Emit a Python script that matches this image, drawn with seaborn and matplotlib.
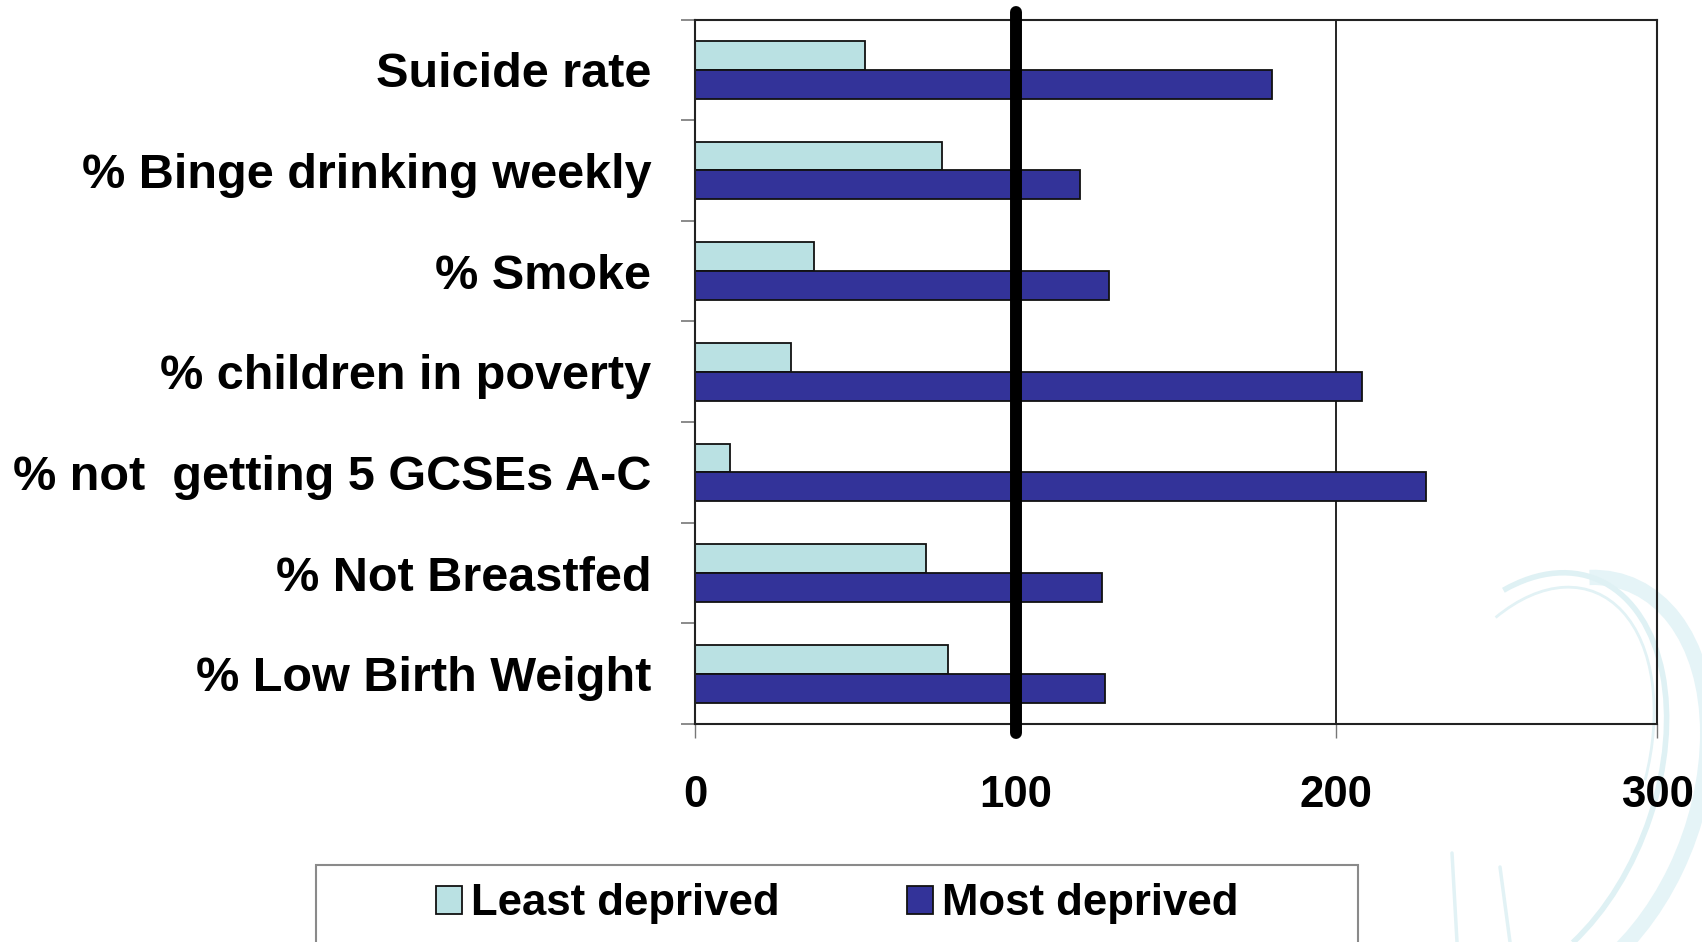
import numpy as np
import pandas as pd
import seaborn as sns
import matplotlib
matplotlib.use("Agg")
import matplotlib.pyplot as plt
from matplotlib.patches import Rectangle, Arc
from matplotlib.lines import Line2D
from matplotlib.ticker import FixedLocator

# Indicator values, England average = 100
categories = [
    "Suicide rate",
    "% Binge drinking weekly",
    "% Smoke",
    "% children in poverty",
    "% not  getting 5 GCSEs A-C",
    "% Not Breastfed",
    "% Low Birth Weight",
]
least_deprived = [53, 77, 37, 30, 11, 72, 79]
most_deprived = [180, 120, 129, 208, 228, 127, 128]
series_names = ["Least deprived", "Most deprived"]
x_ticks = [0, 100, 200, 300]

df = pd.DataFrame({
    "category": categories * 2,
    "value": least_deprived + most_deprived,
    "group": [series_names[0]] * len(categories) + [series_names[1]] * len(categories),
})

sns.set_theme(style="white")
plt.rcParams["font.family"] = ["Liberation Sans", "DejaVu Sans"]
plt.rcParams["font.weight"] = "bold"
plt.rcParams["text.color"] = "black"
plt.rcParams["xtick.labelcolor"] = "black"
plt.rcParams["ytick.labelcolor"] = "black"

W, H = 1702, 942
fig = plt.figure(figsize=(W / 100, H / 100), dpi=100)

# faint logo swooshes in the lower right corner (behind everything)
tr = fig.dpi_scale_trans
def px(x, y):
    return (x / 100, (H - y) / 100)
fig.add_artist(Arc(px(1552, 790), 2.9, 4.4, angle=-20, theta1=-58, theta2=100,
                   transform=tr, color="#E5F4F7", lw=11, zorder=-1))
fig.add_artist(Arc(px(1520, 780), 2.7, 4.3, angle=-20, theta1=-52, theta2=115,
                   transform=tr, color="#DFF1F4", lw=4, zorder=-1))
fig.add_artist(Arc(px(1528, 770), 2.3, 3.8, angle=-20, theta1=15, theta2=122,
                   transform=tr, color="#E2F2F5", lw=2, zorder=-1))
for (x0, y0, x1, y1) in [(1452, 853, 1457, 942), (1500, 867, 1510, 942)]:
    fig.add_artist(Line2D([x0 / 100, x1 / 100], [(H - y0) / 100, (H - y1) / 100],
                          transform=tr, color="#E2F2F5", lw=2.5, zorder=-1))

ax = fig.add_axes([695 / W, 1 - 724 / H, (1657 - 695) / W, (724 - 19.5) / H])
ax.patch.set_alpha(0)

sns.barplot(
    data=df, x="value", y="category", hue="group", orient="h",
    palette=["#BAE1E3", "#333399"], saturation=1, width=0.573,
    edgecolor="#111111", linewidth=1.3, ax=ax,
)

ax.set_xlim(0, 300)
ax.set_ylim(6.5, -0.5)
ax.set_xlabel("")
ax.set_ylabel("")

# reference line at the average and a gridline at 200
ax.axvline(100, ymin=-0.0128, ymax=1.011, color="black", lw=8.6, clip_on=False, zorder=5)
ax.axvline(200, color="black", lw=1.2, zorder=0.5)

for s in ax.spines.values():
    s.set_visible(True)
    s.set_color("#222222")
    s.set_linewidth(1.5)

ax.set_xticks(x_ticks)
ax.set_xticklabels([str(t) for t in x_ticks], fontsize=31.5, fontweight="bold", color="black")
ax.tick_params(axis="x", which="major", bottom=True, length=10, width=1,
               color="#777777", pad=27)
ax.tick_params(axis="y", which="major", left=False, length=0, pad=31.5)
ax.yaxis.set_minor_locator(FixedLocator(np.arange(-0.5, 7, 1.0)))
ax.tick_params(axis="y", which="minor", left=True, length=10, width=1.2, color="#777777")
for lab in ax.get_yticklabels():
    lab.set_fontsize(35)
    lab.set_fontweight("bold")
    lab.set_color("black")

handles, labels = ax.get_legend_handles_labels()
ax.get_legend().remove()

# legend frame
fig.add_artist(Rectangle((316 / W, 1 - 960 / H), (1358 - 316) / W, (960 - 865) / H,
                         transform=fig.transFigure, fill=False, edgecolor="#8a8a8a",
                         lw=1.5))
leg = fig.legend(handles, labels, loc="center", bbox_to_anchor=(837 / W, 1 - 904 / H),
                 ncol=2, frameon=False, prop={"size": 31.5, "weight": "bold"},
                 handlelength=0.6, handleheight=0.6, handletextpad=0.2,
                 columnspacing=2.9, borderaxespad=0)
for t in leg.get_texts():
    t.set_color("black")

fig.savefig("out.png", dpi=100)
